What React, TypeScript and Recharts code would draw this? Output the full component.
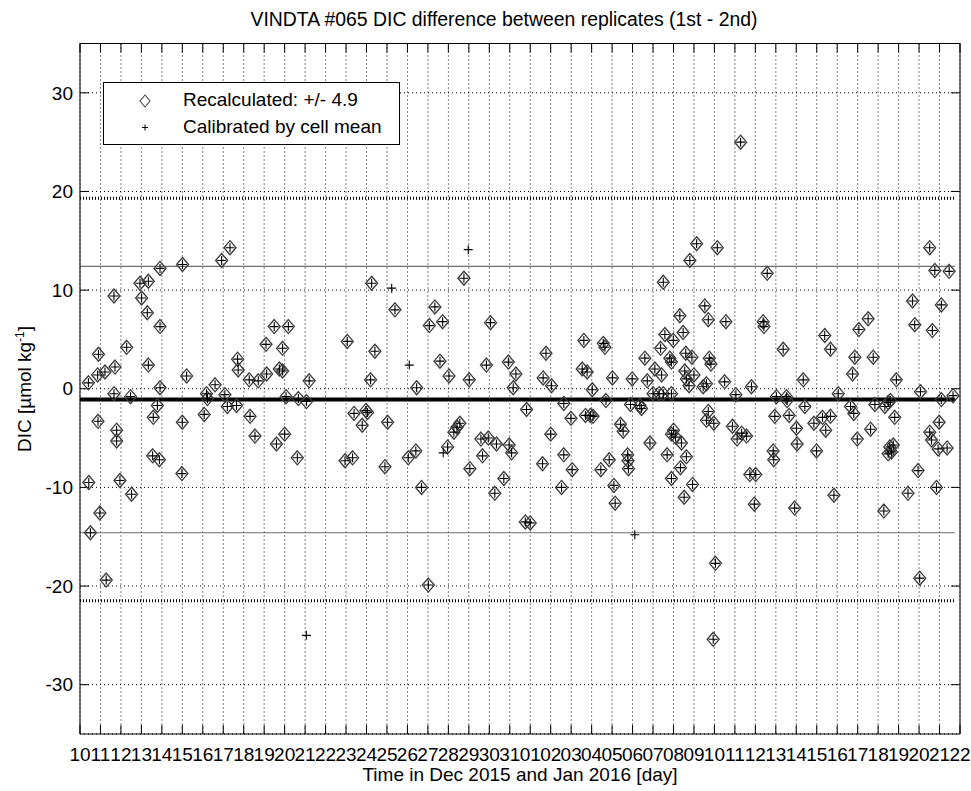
import {
  ScatterChart,
  Scatter,
  XAxis,
  YAxis,
  CartesianGrid,
  ReferenceLine,
} from "recharts";

// x is counted in days from 10 Dec 2015 (0) to 22 Jan 2016 (43)
const dayLabels = [
  "10", "11", "12", "13", "14", "15", "16", "17", "18", "19", "20",
  "21", "22", "23", "24", "25", "26", "27", "28", "29", "30", "31",
  "01", "02", "03", "04", "05", "06", "07", "08", "09", "10", "11",
  "12", "13", "14", "15", "16", "17", "18", "19", "20", "21", "22",
];
const dicTicks = [-30, -20, -10, 0, 10, 20, 30];

// [day, DIC difference in umol/kg]
const recalculated: [number, number][] = [
  [0.41, 0.6], [0.43, -9.5], [0.51, -14.6], [0.86, 1.4], [0.88, -3.3], [0.9, 3.5], [0.97, -12.6],
  [1.22, 1.7], [1.28, -19.4], [1.66, -0.5], [1.66, 9.4], [1.71, 2.2], [1.79, -4.2], [1.79, -5.3], [1.95, -9.3],
  [2.28, 4.2], [2.47, -0.8], [2.52, -10.7], [2.93, 10.7],
  [3.01, 9.2], [3.29, 7.7], [3.34, 10.9], [3.34, 2.4], [3.55, -6.8], [3.58, -2.9], [3.78, -1.7], [3.88, -7.2],
  [3.91, 6.3], [3.91, 0.1], [3.91, 12.2],
  [4.98, -8.6], [5.0, -3.4], [5.01, 12.6], [5.21, 1.3],
  [6.07, -2.6], [6.18, -0.5], [6.23, -1.0], [6.6, 0.4], [6.92, 13.0],
  [7.08, -0.6], [7.2, -1.8], [7.33, 14.3], [7.65, -1.7], [7.7, 3.0], [7.73, 1.9],
  [8.27, 0.9], [8.31, -2.8], [8.55, -4.8], [8.71, 0.8],
  [9.09, 4.5], [9.12, 1.5], [9.49, 6.3], [9.6, -5.6], [9.74, 2.0], [9.9, 1.8], [9.9, 4.1],
  [10.0, -4.6], [10.07, -0.8], [10.18, 6.3], [10.62, -7.0], [10.67, -1.0],
  [11.07, -1.3], [11.2, 0.8],
  [12.95, -7.3], [13.06, 4.8], [13.32, -7.0], [13.39, -2.5], [13.79, -3.7], [13.97, -2.2],
  [14.05, -2.4], [14.2, 0.9], [14.25, 10.7], [14.41, 3.8], [14.9, -7.9],
  [15.03, -3.4], [15.39, 8.0],
  [16.04, -7.0], [16.41, -6.3], [16.45, 0.1], [16.69, -10.0],
  [17.02, -19.9], [17.07, 6.4], [17.34, 8.3], [17.59, 2.8], [17.72, 6.8], [17.96, -5.9],
  [18.03, 1.3], [18.27, -4.4], [18.42, -3.9], [18.56, -3.5], [18.76, 11.2],
  [19.02, 0.9], [19.05, -8.1], [19.59, -5.1], [19.67, -6.8], [19.86, 2.4], [19.95, -5.0],
  [20.06, 6.7], [20.27, -10.6], [20.35, -5.6], [20.71, -9.1], [20.93, 2.7], [20.97, -5.7],
  [21.09, -6.5], [21.17, 0.1], [21.3, 1.5], [21.76, -13.5], [21.82, -2.1],
  [22.0, -13.6], [22.6, -7.6], [22.63, 1.1], [22.77, 3.6],
  [23.0, -4.6], [23.04, 0.3], [23.53, -10.0], [23.64, -1.5], [23.64, -6.7], [23.99, -3.0],
  [24.05, -8.2], [24.54, 2.0], [24.62, 4.9], [24.7, -2.7], [24.78, 1.7], [24.94, -2.7],
  [25.03, -0.1], [25.07, -2.8], [25.45, -8.2], [25.57, 4.6], [25.65, 4.2], [25.7, -1.2], [25.86, -7.2],
  [26.02, 1.1], [26.09, -9.8], [26.15, -11.6], [26.41, -3.6], [26.54, -4.3], [26.76, -6.7],
  [26.78, -7.3], [26.8, -8.1], [26.9, -1.6], [26.98, 1.0],
  [27.36, -1.7], [27.44, -2.0], [27.6, 3.1], [27.72, 0.8], [27.85, -5.5],
  [28.0, -0.5], [28.09, 2.0], [28.3, -0.5], [28.37, 4.1], [28.42, 1.4], [28.5, 10.8], [28.5, -0.5],
  [28.58, 5.5], [28.69, -6.7], [28.82, 3.1], [28.9, 2.7], [28.9, -0.5], [28.9, -4.6], [28.9, -9.1], [28.99, 4.9],
  [29.0, -4.2], [29.1, -4.9], [29.31, 7.4], [29.34, -8.0], [29.39, -5.5], [29.47, 5.7], [29.52, -11.0],
  [29.55, 1.8], [29.6, 3.6], [29.63, 1.0], [29.63, -6.9], [29.76, 0.3], [29.8, 13.0], [29.9, 3.2], [29.93, -9.7],
  [30.0, 1.4], [30.13, 14.7], [30.45, 0.2], [30.53, 8.4], [30.61, 0.5], [30.61, -3.2], [30.7, 7.0],
  [30.7, -2.3], [30.75, 3.1], [30.83, 2.5], [30.94, -25.4], [30.97, -3.5],
  [31.05, -17.7], [31.14, 14.3], [31.5, 0.7], [31.56, 6.8], [31.88, -3.8],
  [32.05, -0.6], [32.11, -5.1], [32.28, 25.0], [32.33, -4.5], [32.57, -4.8], [32.73, -8.7], [32.81, 0.2], [32.95, -11.7],
  [33.02, -8.7], [33.38, 6.8], [33.42, 6.3], [33.58, 11.7], [33.87, -6.3], [33.9, -7.2], [33.95, -2.8],
  [34.03, -0.8], [34.36, 4.0], [34.52, -0.8], [34.55, -1.2], [34.65, -2.7], [34.92, -12.1],
  [35.01, -4.0], [35.04, -5.6], [35.34, 0.9], [35.42, -1.8], [35.86, -3.5], [35.99, -6.3],
  [36.28, -2.9], [36.39, 5.4], [36.44, -4.2], [36.67, -2.8], [36.67, 4.0], [36.84, -10.8],
  [37.05, -0.5], [37.65, -1.8], [37.75, 1.5], [37.81, -2.5], [37.86, 3.2], [37.98, -5.1],
  [38.06, 6.0], [38.51, 7.1], [38.63, -4.1], [38.76, 3.2], [38.84, -1.6],
  [39.28, -12.4], [39.33, -1.8], [39.49, -1.4], [39.49, -6.6], [39.57, -5.9], [39.6, -1.2],
  [39.65, -6.4], [39.74, -5.7], [39.81, -2.9], [39.89, 0.9],
  [40.46, -10.6], [40.68, 8.9], [40.79, 6.5], [40.95, -8.3],
  [41.03, -19.2], [41.07, -0.3], [41.52, -4.4], [41.52, 14.3], [41.61, -5.2], [41.65, 5.9],
  [41.77, 12.0], [41.85, -10.0], [41.93, -6.1], [41.98, -3.4],
  [42.09, 8.5], [42.09, -1.1], [42.37, -6.0], [42.47, 11.9], [42.66, -0.7],
];

// cell-mean calibrated values that do not sit inside a diamond
const calibratedOnly: [number, number][] = [
  [11.06, -25.0], [15.23, 10.2], [16.09, 2.4], [17.75, -6.5], [18.97, 14.1], [27.11, -14.8],
];

const cellMean = -1.1;
const innerLimits = [12.4, -14.6];
const outerLimits = [19.3, -21.5];
const lineEnd = 42.75;

const FONT = '"Liberation Sans", Arial, Helvetica, sans-serif';
const xTickDays = dayLabels.map((_, i) => i);

function Diamond(props: any) {
  const { cx, cy } = props;
  if (cx == null || cy == null) return <g />;
  return (
    <path
      d={`M${cx},${cy - 7}L${cx + 6},${cy}L${cx},${cy + 7}L${cx - 6},${cy}Z`}
      fill="none"
      stroke="#3a3a3a"
      strokeWidth={1.3}
    />
  );
}

function Plus(props: any) {
  const { cx, cy } = props;
  if (cx == null || cy == null) return <g />;
  return (
    <path
      d={`M${cx - 4.5},${cy}H${cx + 4.5}M${cx},${cy - 4.5}V${cy + 4.5}`}
      stroke="#000"
      strokeWidth={1.1}
    />
  );
}

export default function App() {
  const recalcData = recalculated.map(([day, dic]) => ({ day, dic }));
  const calibData = [...recalculated, ...calibratedOnly].map(([day, dic]) => ({ day, dic }));

  return (
    <div
      style={{
        position: "absolute",
        left: 0,
        top: 0,
        width: 971,
        height: 791,
        background: "#fff",
        fontFamily: FONT,
        color: "#000",
      }}
    >
      <div
        style={{
          position: "absolute",
          left: 64,
          width: 880,
          top: 8,
          textAlign: "center",
          fontSize: 19.4,
          whiteSpace: "nowrap",
        }}
      >
        VINDTA #065 DIC difference between replicates (1st - 2nd)
      </div>

      <ScatterChart
        width={971}
        height={791}
        margin={{ top: 43.5, right: 11, bottom: 17, left: 0 }}
      >
        <CartesianGrid strokeDasharray="1 3" stroke="#000" />
        <XAxis
          type="number"
          dataKey="day"
          domain={[0, 43]}
          ticks={xTickDays}
          interval={0}
          tickFormatter={(d) => dayLabels[d]}
          height={40}
          tickLine={false}
          axisLine={false}
          tickSize={0}
          tickMargin={14}
          tick={{ fontSize: 19, fill: "#000", fontFamily: FONT }}
        />
        <YAxis
          type="number"
          dataKey="dic"
          domain={[-35, 35]}
          ticks={dicTicks}
          interval={0}
          width={80}
          tickLine={false}
          axisLine={false}
          tickSize={0}
          tickMargin={7}
          tick={{ fontSize: 19, fill: "#000", fontFamily: FONT }}
        />

        {/* inward tick marks on all four sides */}
        {xTickDays.map((d) => (
          <ReferenceLine key={`xb${d}`} segment={[{ x: d, y: -35 }, { x: d, y: -34.09 }]} stroke="#000" />
        ))}
        {xTickDays.map((d) => (
          <ReferenceLine key={`xt${d}`} segment={[{ x: d, y: 35 }, { x: d, y: 34.09 }]} stroke="#000" />
        ))}
        {dicTicks.map((v) => (
          <ReferenceLine key={`yl${v}`} segment={[{ x: 0, y: v }, { x: 0.44, y: v }]} stroke="#000" />
        ))}
        {dicTicks.map((v) => (
          <ReferenceLine key={`yr${v}`} segment={[{ x: 43, y: v }, { x: 42.56, y: v }]} stroke="#000" />
        ))}

        {/* limits and cell mean */}
        {outerLimits.map((v) => (
          <ReferenceLine
            key={`o${v}`}
            segment={[{ x: 0, y: v }, { x: lineEnd, y: v }]}
            stroke="#000"
            strokeWidth={3}
            strokeDasharray="1 2"
          />
        ))}
        {innerLimits.map((v) => (
          <ReferenceLine
            key={`i${v}`}
            segment={[{ x: 0, y: v }, { x: lineEnd, y: v }]}
            stroke="#6e6e6e"
            strokeWidth={1.2}
          />
        ))}
        <ReferenceLine
          segment={[{ x: 0, y: cellMean }, { x: lineEnd, y: cellMean }]}
          stroke="#000"
          strokeWidth={4}
        />

        {/* axes box */}
        <ReferenceLine x={0} stroke="#000" />
        <ReferenceLine x={43} stroke="#000" />
        <ReferenceLine y={35} stroke="#000" />
        <ReferenceLine y={-35} stroke="#000" />

        <Scatter data={recalcData} shape={Diamond} isAnimationActive={false} />
        <Scatter data={calibData} shape={Plus} isAnimationActive={false} />
      </ScatterChart>

      <svg
        width={298}
        height={64}
        style={{ position: "absolute", left: 103, top: 82 }}
      >
        <rect x={0.5} y={0.5} width={296} height={62} fill="#fff" stroke="#000" />
        <path d="M42,13L47,19L42,25L37,19Z" fill="none" stroke="#444" strokeWidth={1.1} />
        <path d="M39,45.5H45M42,42.5V48.5" stroke="#000" strokeWidth={1} />
        <text x={80} y={24} fontSize={19} fontFamily={FONT} fill="#000">
          Recalculated: +/- 4.9
        </text>
        <text x={80} y={51} fontSize={19} fontFamily={FONT} fill="#000">
          Calibrated by cell mean
        </text>
      </svg>

      <div
        style={{
          position: "absolute",
          left: 80,
          width: 880,
          top: 764,
          textAlign: "center",
          fontSize: 19,
          whiteSpace: "nowrap",
        }}
      >
        Time in Dec 2015 and Jan 2016 [day]
      </div>

      <div
        style={{
          position: "absolute",
          left: 25 - 150,
          top: 388.5 - 12,
          width: 300,
          height: 24,
          lineHeight: "24px",
          textAlign: "center",
          fontSize: 19,
          whiteSpace: "nowrap",
          transform: "rotate(-90deg)",
        }}
      >
        DIC [µmol kg<sup style={{ fontSize: 12, lineHeight: 0 }}>-1</sup>]
      </div>
    </div>
  );
}
